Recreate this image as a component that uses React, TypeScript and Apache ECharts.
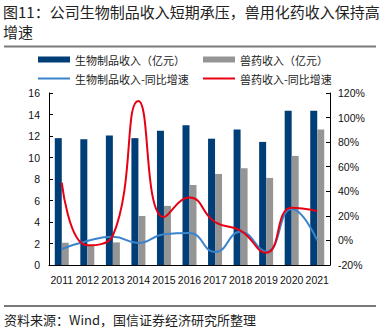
import React, { useEffect, useRef } from "react";
import * as echarts from "echarts";

const years = ["2011", "2012", "2013", "2014", "2015", "2016", "2017", "2018", "2019", "2020", "2021"];
const bioRevenue = [11.8, 11.7, 12.05, 11.8, 12.5, 13.0, 11.75, 12.6, 11.45, 14.35, 14.35];
const vetRevenue = [2.07, 1.8, 2.1, 4.56, 5.5, 7.44, 8.47, 9.0, 8.1, 10.15, 12.6];
const bioGrowth = [-7, -0.5, 3, -2, 5, 6, -9.5, 7, -9, 25.5, 0];
const vetGrowth = [47, -4, 4, 113.5, 19, 35, 15, 8, -10, 26.5, 24];

const titleText = "图11：公司生物制品收入短期承压，兽用化药收入保持高";
const titleText2 = "增速";
const sourceText = "资料来源：Wind，国信证券经济研究所整理";

const NAVY = "#003e78";
const GRAY = "#959595";
const LBLUE = "#3a84cc";
const RED = "#e60012";

export default function App() {
  const ref = useRef<HTMLDivElement>(null);
  useEffect(() => {
    const chart = echarts.init(ref.current!, null, { renderer: "svg" });
    const font = "'Liberation Sans', Arial, 'Noto Sans CJK SC', sans-serif";
    const cjk = "'Noto Sans CJK SC', sans-serif";
    const legendText = { fontSize: 11, color: "#222", fontFamily: cjk };
    chart.setOption({
      animation: false,
      backgroundColor: "#fff",
      textStyle: { fontFamily: font },
      graphic: [
        { type: "text", left: 3, top: 4, style: { text: titleText, fontSize: 15, fill: "#222", fontFamily: cjk } },
        { type: "text", left: 3, top: 24, style: { text: titleText2, fontSize: 15, fill: "#222", fontFamily: cjk } },
        { type: "line", shape: { x1: 4, y1: 46.5, x2: 376, y2: 46.5 }, style: { stroke: "#7a7a7a", lineWidth: 2 } },
        { type: "line", shape: { x1: 4, y1: 306, x2: 376, y2: 306 }, style: { stroke: "#7a7a7a", lineWidth: 2 } },
        { type: "text", left: 4, top: 313, style: { text: sourceText, fontSize: 13, fill: "#222", fontFamily: cjk } },
      ],
      legend: [
        { left: 33, top: 49, itemWidth: 32, itemHeight: 6, icon: "rect", textStyle: legendText, data: ["生物制品收入（亿元）"], itemGap: 5 },
        { left: 198, top: 49, itemWidth: 32, itemHeight: 6, icon: "rect", textStyle: legendText, data: ["兽药收入（亿元）"] },
        { left: 33, top: 68, itemWidth: 32, itemHeight: 2, icon: "rect", textStyle: legendText, data: ["生物制品收入-同比增速"] },
        { left: 198, top: 68, itemWidth: 32, itemHeight: 2, icon: "rect", textStyle: legendText, data: ["兽药收入-同比增速"] },
      ],
      grid: { left: 49, right: 52, top: 93, bottom: 69, containLabel: false },
      xAxis: {
        type: "category",
        data: years,
        axisLine: { lineStyle: { color: "#000", width: 1 } },
        axisTick: { inside: true, length: 4, lineStyle: { color: "#000" } },
        axisLabel: { color: "#111", fontSize: 10.5, margin: 10, interval: 0 },
      },
      yAxis: [
        {
          type: "value",
          min: 0,
          max: 16,
          interval: 2,
          axisLine: { show: true, lineStyle: { color: "#000" } },
          axisTick: { show: true, inside: true, length: 4, lineStyle: { color: "#000" } },
          axisLabel: { color: "#111", fontSize: 10.5, margin: 9 },
          splitLine: { show: false },
        },
        {
          type: "value",
          min: -20,
          max: 120,
          interval: 20,
          position: "right",
          axisLine: { show: true, lineStyle: { color: "#000" } },
          axisTick: { show: true, inside: true, length: 4, lineStyle: { color: "#000" } },
          axisLabel: { color: "#111", fontSize: 10.5, margin: 8, formatter: "{value}%" },
          splitLine: { show: false },
        },
      ],
      series: [
        { name: "生物制品收入（亿元）", type: "bar", data: bioRevenue, barWidth: 7, barGap: "0%", itemStyle: { color: NAVY } },
        { name: "兽药收入（亿元）", type: "bar", data: vetRevenue, barWidth: 7, barGap: "0%", itemStyle: { color: GRAY } },
        {
          name: "生物制品收入-同比增速", type: "line", yAxisIndex: 1, data: bioGrowth, smooth: 0.5,
          showSymbol: false, symbol: "none", lineStyle: { color: LBLUE, width: 2 }, itemStyle: { color: LBLUE },
        },
        {
          name: "兽药收入-同比增速", type: "line", yAxisIndex: 1, data: vetGrowth, smooth: 0.5,
          showSymbol: false, symbol: "none", lineStyle: { color: RED, width: 2 }, itemStyle: { color: RED },
        },
      ],
    });
    return () => chart.dispose();
  }, []);
  return <div ref={ref} style={{ position: "fixed", left: 0, top: 0, width: 382, height: 334 }} />;
}
